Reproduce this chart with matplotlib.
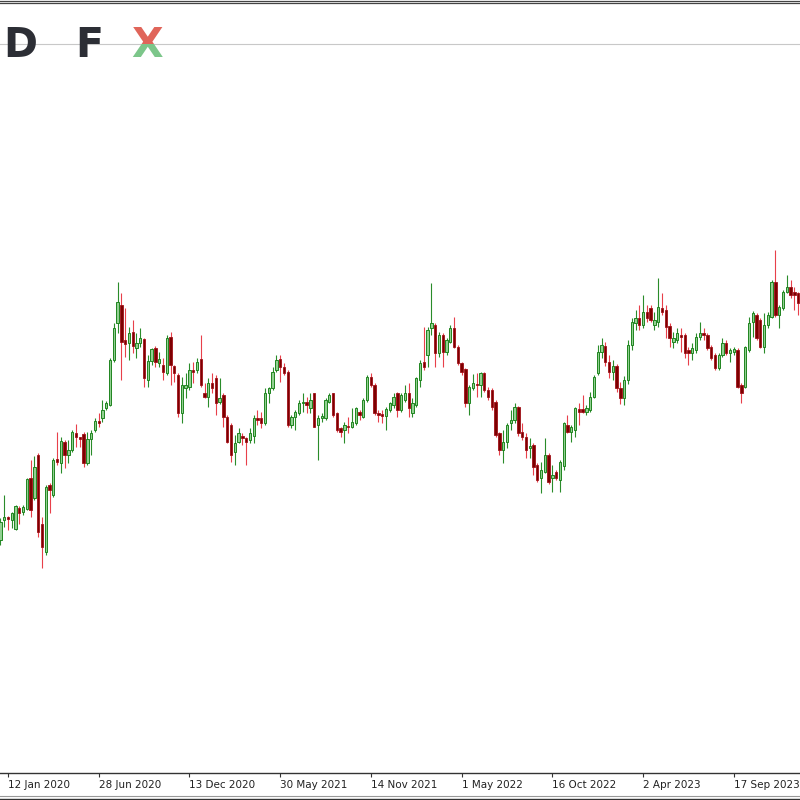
import matplotlib
matplotlib.use('Agg')
import matplotlib.pyplot as plt
import numpy as np
from matplotlib.lines import Line2D
from matplotlib.transforms import Bbox, TransformedBbox

# weekly candles (price axis is hidden, arbitrary units)
open_ = [260, 280, 283, 280, 271, 292, 288, 291, 322, 302, 345, 276, 248, 315, 305, 341, 337, 358, 345, 350,
         367, 363, 366, 337, 361, 370, 379, 382, 392, 395, 440, 477, 495, 460, 457, 468, 452, 457, 461, 420,
         439, 452, 437, 435, 427, 463, 434, 425, 387, 412, 413, 430, 430, 441, 407, 403, 417, 422, 398, 405,
         383, 375, 348, 358, 364, 362, 360, 364, 382, 382, 377, 407, 412, 430, 441, 433, 428, 375, 383, 387,
         397, 398, 392, 407, 375, 382, 382, 398, 407, 387, 372, 370, 374, 373, 377, 388, 383, 400, 423, 415,
         387, 386, 384, 390, 395, 407, 390, 400, 407, 387, 395, 420, 438, 445, 472, 475, 447, 465, 448, 458,
         472, 453, 437, 431, 397, 412, 416, 415, 427, 410, 410, 398, 367, 350, 358, 377, 380, 393, 368, 363,
         352, 355, 335, 322, 328, 345, 322, 328, 320, 334, 375, 368, 370, 391, 391, 388, 390, 403, 427, 448,
         454, 438, 428, 434, 412, 402, 420, 455, 477, 482, 475, 488, 492, 475, 478, 492, 490, 474, 458, 460,
         465, 465, 450, 447, 450, 463, 467, 465, 453, 445, 432, 445, 457, 447, 448, 450, 415, 413, 450, 478,
         485, 480, 453, 475, 483, 518, 485, 492, 508, 513, 508, 507]
high = [282, 305, 284, 288, 295, 294, 295, 322, 340, 344, 347, 283, 315, 317, 342, 368, 363, 360, 360, 370,
        376, 363, 368, 368, 370, 382, 387, 400, 399, 442, 477, 518, 507, 492, 473, 480, 467, 472, 462, 445,
        452, 454, 448, 442, 465, 468, 435, 427, 423, 427, 437, 438, 442, 465, 417, 422, 427, 425, 422, 407,
        385, 377, 365, 372, 367, 363, 372, 385, 390, 388, 412, 413, 433, 445, 445, 437, 430, 385, 390, 400,
        407, 403, 407, 407, 385, 387, 402, 407, 407, 388, 373, 378, 383, 392, 393, 390, 402, 425, 427, 417,
        390, 390, 393, 398, 407, 408, 407, 415, 417, 402, 423, 440, 473, 473, 517, 477, 468, 467, 462, 475,
        483, 455, 438, 432, 415, 426, 427, 428, 428, 413, 412, 400, 368, 370, 377, 390, 397, 394, 377, 367,
        362, 357, 337, 338, 362, 347, 335, 330, 340, 378, 385, 375, 393, 397, 405, 395, 408, 425, 455, 462,
        458, 445, 440, 436, 418, 424, 460, 482, 490, 495, 505, 495, 495, 488, 522, 507, 495, 477, 468, 472,
        472, 467, 453, 457, 467, 478, 472, 467, 455, 447, 447, 462, 460, 452, 453, 452, 417, 454, 483, 489,
        487, 482, 487, 488, 520, 550, 495, 510, 525, 520, 513, 508]
low = [255, 273, 270, 272, 270, 276, 285, 290, 283, 300, 263, 232, 245, 287, 303, 335, 327, 332, 337, 348,
       353, 353, 333, 335, 345, 368, 373, 378, 390, 394, 438, 467, 420, 443, 440, 447, 442, 453, 413, 413,
       435, 433, 433, 420, 425, 415, 418, 383, 377, 402, 410, 417, 427, 413, 402, 393, 407, 385, 396, 373,
       357, 338, 335, 357, 355, 335, 357, 357, 375, 372, 375, 397, 410, 428, 418, 425, 373, 372, 370, 385,
       388, 387, 387, 373, 340, 378, 380, 397, 383, 368, 363, 357, 367, 372, 375, 380, 382, 398, 413, 385,
       378, 377, 370, 388, 392, 383, 388, 398, 383, 383, 393, 413, 430, 433, 465, 433, 443, 433, 445, 457,
       452, 435, 425, 393, 385, 410, 403, 403, 408, 400, 390, 363, 345, 337, 352, 370, 377, 364, 360, 342,
       342, 325, 318, 307, 327, 316, 308, 320, 308, 330, 367, 358, 363, 375, 387, 385, 388, 402, 425, 442,
       434, 422, 420, 408, 396, 395, 416, 450, 470, 470, 472, 478, 478, 470, 473, 485, 462, 453, 452, 457,
       448, 442, 435, 440, 447, 460, 460, 450, 440, 430, 430, 443, 445, 438, 445, 412, 397, 412, 448, 463,
       460, 452, 447, 472, 482, 483, 472, 490, 507, 502, 490, 485]
close = [278, 283, 281, 287, 294, 287, 293, 321, 290, 333, 268, 253, 313, 310, 340, 338, 359, 345, 350, 368,
         363, 361, 337, 361, 367, 379, 377, 390, 397, 440, 472, 498, 458, 456, 467, 454, 457, 462, 422, 439,
         451, 438, 441, 428, 462, 435, 427, 387, 415, 415, 430, 428, 438, 415, 403, 417, 412, 397, 402, 383,
         358, 345, 357, 367, 362, 358, 367, 382, 380, 377, 407, 412, 428, 440, 433, 427, 375, 383, 388, 397,
         398, 395, 400, 373, 382, 384, 400, 405, 385, 370, 368, 375, 373, 378, 392, 385, 400, 423, 415, 387,
         385, 384, 391, 397, 403, 390, 405, 407, 392, 397, 422, 437, 433, 470, 477, 447, 465, 448, 460, 472,
         453, 437, 428, 397, 413, 417, 415, 427, 410, 403, 393, 365, 350, 358, 375, 380, 393, 367, 363, 350,
         354, 333, 320, 330, 345, 318, 325, 322, 338, 377, 368, 373, 392, 388, 388, 392, 403, 423, 448, 455,
         438, 428, 434, 412, 402, 420, 455, 478, 482, 475, 488, 482, 480, 480, 493, 488, 473, 462, 462, 467,
         463, 447, 447, 452, 463, 467, 465, 452, 442, 432, 445, 457, 447, 450, 451, 413, 407, 453, 477, 487,
         462, 453, 475, 485, 518, 485, 493, 508, 513, 505, 505, 497]

tick_pos = [2, 26, 50, 74, 98, 122, 146, 170, 194]
tick_labels = ['12 Jan 2020', '28 Jun 2020', '13 Dec 2020', '30 May 2021', '14 Nov 2021',
               '1 May 2022', '16 Oct 2022', '2 Apr 2023', '17 Sep 2023']

o = np.array(open_, float)
h = np.array(high, float)
l = np.array(low, float)
c = np.array(close, float)
x = np.arange(len(c))
up = c >= o
dn = ~up

fig = plt.figure(figsize=(8, 8), dpi=100)
ax = fig.add_axes([0, 27 / 800, 1, 723 / 800])

ax.vlines(x[up], l[up], h[up], color='#2a8c2a', lw=0.8, zorder=2)
ax.vlines(x[dn], l[dn], h[dn], color='#e8404a', lw=0.8, zorder=2)
ax.bar(x[up], np.maximum(c[up] - o[up], 1.0), bottom=o[up], width=0.62,
       color='#92d092', edgecolor='#1f851f', linewidth=0.7, zorder=3)
ax.bar(x[dn], -np.maximum(o[dn] - c[dn], 1.0), bottom=o[dn], width=0.62,
       color='#7d0000', edgecolor='#a01018', linewidth=0.6, zorder=3)

ax.set_xlim(-0.1, 211.5)
ax.set_ylim(27, 750)
ax.set_yticks([])
ax.set_xticks(tick_pos)
ax.set_xticklabels(tick_labels, ha='left', fontsize=7.5, color='#222222')
ax.tick_params(axis='x', direction='out', length=3, width=0.8, color='#333333', pad=2)
for s in ['top', 'left', 'right']:
    ax.spines[s].set_visible(False)
ax.spines['bottom'].set_color('#333333')
ax.spines['bottom'].set_linewidth(1.0)

# frame lines
def hline(ypx, color, lw):
    fig.add_artist(Line2D([0, 1], [1 - ypx / 800, 1 - ypx / 800], color=color, lw=lw,
                          transform=fig.transFigure, zorder=1))

hline(0.8, '#444444', 0.9)
hline(3.4, '#444444', 0.9)
hline(44, '#c8c8c8', 0.8)
hline(796, '#999999', 0.8)
hline(798.5, '#333333', 1.0)

# logo
base = 1 - 57 / 800
logo_kw = dict(fontsize=29.5, fontweight='bold', family='DejaVu Sans', va='baseline', zorder=5)
fig.text(37 / 800, base, 'D', ha='right', color='#2c2e35', **logo_kw)
fig.text(89 / 800, base, 'F', ha='center', color='#2c2e35', **logo_kw)
top_clip = TransformedBbox(Bbox([[0, 1 - 44 / 800], [1, 1]]), fig.transFigure)
bot_clip = TransformedBbox(Bbox([[0, 0], [1, 1 - 44 / 800]]), fig.transFigure)
xr = fig.text(147.5 / 800, base, 'X', ha='center', color='#e0655a', **logo_kw)
xr.set_clip_box(top_clip)
xr.set_clip_on(True)
xg = fig.text(147.5 / 800, base, 'X', ha='center', color='#7cc68a', **logo_kw)
xg.set_clip_box(bot_clip)
xg.set_clip_on(True)

fig.savefig('out.png', dpi=100)
